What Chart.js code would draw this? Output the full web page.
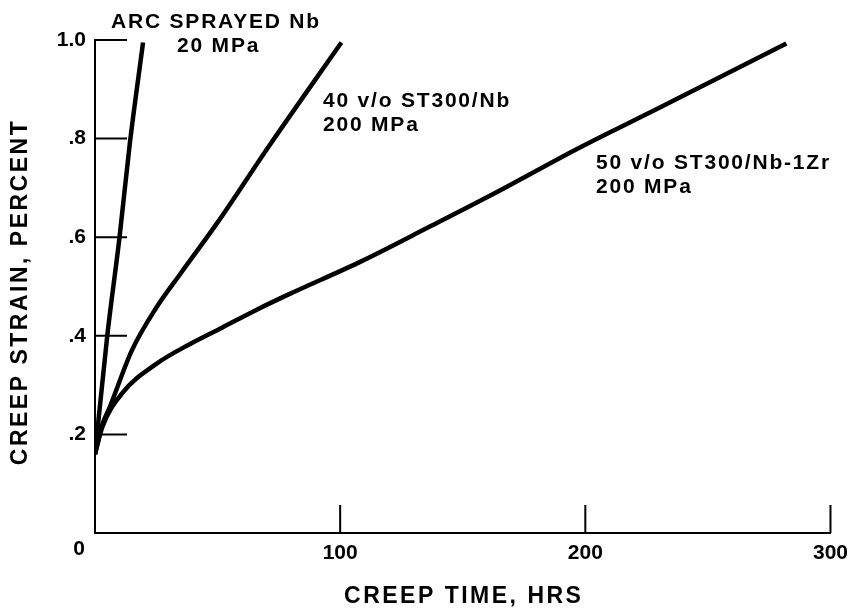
<!DOCTYPE html>
<html>
<head>
<meta charset="utf-8">
<script src="https://cdn.jsdelivr.net/npm/chart.js@4/dist/chart.umd.min.js"></script>
<style>
    html, body { margin: 0; padding: 0; background: #fff; }
</style>
</head>
<body>
<canvas id="creep-chart" width="856" height="611"></canvas>
<script>
// tick values and labels
const xTicks = [100, 200, 300];
const yTicks = [0.2, 0.4, 0.6, 0.8, 1.0];
const yTickLabels = ['.2', '.4', '.6', '.8', '1.0'];

// ARC SPRAYED Nb, 20 MPa
const arcTime = [0, 5, 10, 14.2, 19.6];
const arcStrain = [0.16, 0.40, 0.60, 0.79, 0.995];

// 40 v/o ST300/Nb, 200 MPa
const nbTime = [0, 3, 6, 15, 25, 35, 50, 71, 100.5];
const nbStrain = [0.16, 0.22, 0.255, 0.37, 0.457, 0.527, 0.63, 0.785, 0.995];

// 50 v/o ST300/Nb-1Zr, 200 MPa
const zrTime = [0, 3, 11, 25, 39, 52, 66, 79, 109, 136, 163, 197, 230, 282];
const zrStrain = [0.16, 0.215, 0.283, 0.343, 0.384, 0.417, 0.453, 0.484, 0.552, 0.62, 0.689, 0.78, 0.862, 0.993];

const FONT = "'Liberation Sans', Arial, Helvetica, sans-serif";

const toPoints = (xs, ys) => xs.map((t, i) => ({ x: t, y: ys[i] }));

// inward tick marks, corner zero, axis titles and curve notes
const creepMarks = {
    id: 'creepMarks',
    afterDraw(chart) {
        const { ctx, chartArea: area, scales: { x, y } } = chart;
        ctx.save();
        ctx.strokeStyle = '#000';
        ctx.lineWidth = 2;
        ctx.beginPath();
        yTicks.forEach(v => {
            const py = y.getPixelForValue(v);
            ctx.moveTo(area.left, py);
            ctx.lineTo(area.left + 32, py);
        });
        xTicks.forEach(v => {
            const px = x.getPixelForValue(v);
            ctx.moveTo(px, area.bottom);
            ctx.lineTo(px, area.bottom - 28);
        });
        ctx.stroke();

        ctx.fillStyle = '#000';
        ctx.textBaseline = 'middle';
        ctx.textAlign = 'center';
        ctx.font = 'bold 21px ' + FONT;
        ctx.fillText('0', area.left - 16, area.bottom + 16);

        // axis titles
        ctx.font = 'bold 23px ' + FONT;
        ctx.letterSpacing = '2.5px';
        ctx.fillText('CREEP TIME, HRS', (area.left + area.right) / 2 + 1, 597);
        ctx.save();
        ctx.translate(21, 293);
        ctx.rotate(-Math.PI / 2);
        ctx.fillText('CREEP STRAIN, PERCENT', 1, 0);
        ctx.restore();

        // curve labels
        ctx.letterSpacing = '1.8px';
        ctx.textAlign = 'left';
        ctx.font = 'bold 21px ' + FONT;
        ctx.fillText('ARC SPRAYED Nb', 111, 22);
        ctx.fillText('20 MPa', 177, 46);
        ctx.fillText('40 v/o ST300/Nb', 323, 101);
        ctx.fillText('200 MPa', 323, 125);
        ctx.fillText('50 v/o ST300/Nb-1Zr', 596, 163);
        ctx.fillText('200 MPa', 596, 187);
        ctx.restore();
    }
};

const lineStyle = {
    borderColor: '#000',
    backgroundColor: '#000',
    borderWidth: 4.5,
    pointRadius: 0,
    showLine: true,
    fill: false,
    cubicInterpolationMode: 'monotone',
};

const ctx = document.getElementById('creep-chart').getContext('2d');
const creepChart = new Chart(ctx, {
    type: 'scatter',
    data: {
        datasets: [
            { label: 'ARC SPRAYED Nb', data: toPoints(arcTime, arcStrain), ...lineStyle },
            { label: '40 v/o ST300/Nb', data: toPoints(nbTime, nbStrain), ...lineStyle },
            { label: '50 v/o ST300/Nb-1Zr', data: toPoints(zrTime, zrStrain), ...lineStyle },
        ],
    },
    options: {
        responsive: false,
        animation: false,
        layout: { padding: { top: 40, right: 22, left: 0, bottom: 0 } },
        plugins: {
            legend: { display: false },
            tooltip: { enabled: false },
        },
        scales: {
            x: {
                type: 'linear',
                min: 0,
                max: 300,
                grid: { display: false, drawTicks: false },
                border: { color: '#000', width: 2 },
                ticks: {
                    stepSize: 100,
                    padding: 8,
                    color: '#000',
                    font: { family: FONT, size: 21, weight: 'bold' },
                    callback: v => (xTicks.includes(v) ? String(v) : ''),
                },
                afterFit: scale => { scale.height = 78; },
            },
            y: {
                min: 0,
                max: 1,
                grid: { display: false, drawTicks: false },
                border: { color: '#000', width: 2 },
                ticks: {
                    stepSize: 0.2,
                    padding: 9,
                    color: '#000',
                    font: { family: FONT, size: 21, weight: 'bold' },
                    callback: v => {
                        const i = yTicks.findIndex(t => Math.abs(t - v) < 1e-6);
                        return i >= 0 ? yTickLabels[i] : '';
                    },
                },
                afterFit: scale => { scale.width = 95; },
            },
        },
    },
    plugins: [creepMarks],
});
</script>
</body>
</html>
